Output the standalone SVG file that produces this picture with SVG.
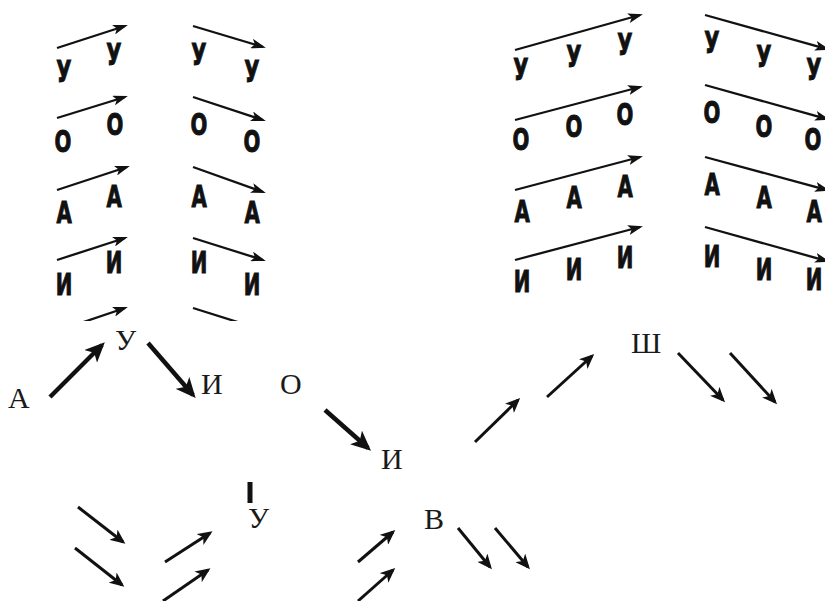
<svg xmlns="http://www.w3.org/2000/svg" width="825" height="601" viewBox="0 0 825 601">
<style>
.b{font-family:"DejaVu Sans","Liberation Sans",sans-serif;font-weight:bold;font-size:30px;text-anchor:middle;fill:#111;stroke:#111;stroke-width:1;transform-box:fill-box;transform-origin:50% 100%;transform:scaleX(0.66)}
.s{font-family:"Liberation Serif","Times New Roman",serif;font-size:30px;fill:#1a1a1a}
.t{stroke:#111;stroke-width:2.3;fill:none;marker-end:url(#ht)}
.m{stroke:#111;stroke-width:3;fill:none;marker-end:url(#hm)}
.k{stroke:#111;stroke-width:4.5;fill:none;marker-end:url(#hk)}
</style>
<defs>
<marker id="ht" markerUnits="userSpaceOnUse" markerWidth="15" markerHeight="10" refX="12" refY="5" orient="auto"><path d="M0,0 L15,5 L0,10 L3.5,5 z" fill="#111"/></marker>
<marker id="hm" markerUnits="userSpaceOnUse" markerWidth="15" markerHeight="13" refX="12" refY="6.5" orient="auto"><path d="M0,0 L15,6.5 L0,13 L4,6.5 z" fill="#111"/></marker>
<marker id="hk" markerUnits="userSpaceOnUse" markerWidth="20" markerHeight="18" refX="16" refY="9" orient="auto"><path d="M0,0 L20,9 L0,18 L5,9 z" fill="#111"/></marker>
<clipPath id="cl"><rect x="0" y="0" width="300" height="321"/></clipPath>
</defs>
<rect width="825" height="601" fill="#fff"/>

<g id="block-left" clip-path="url(#cl)">
<line class="t" x1="57" y1="48" x2="125" y2="26"/>
<line class="t" x1="57" y1="118" x2="125" y2="97"/>
<line class="t" x1="57" y1="190" x2="127" y2="167"/>
<line class="t" x1="57" y1="260" x2="125" y2="238"/>
<line class="t" x1="57" y1="331" x2="125" y2="308"/>
<line class="t" x1="193" y1="26" x2="263" y2="47"/>
<line class="t" x1="193" y1="97" x2="263" y2="120"/>
<line class="t" x1="193" y1="167" x2="263" y2="192"/>
<line class="t" x1="193" y1="238" x2="263" y2="260"/>
<line class="t" x1="193" y1="308" x2="263" y2="330"/>
<text class="b" x="64" y="82">У</text><text class="b" x="114" y="65">У</text>
<text class="b" x="199" y="65">У</text><text class="b" x="252" y="82">У</text>
<text class="b" x="63" y="152">О</text><text class="b" x="115" y="135">О</text>
<text class="b" x="199" y="135">О</text><text class="b" x="252" y="152">О</text>
<text class="b" x="64" y="223">А</text><text class="b" x="114" y="207">А</text>
<text class="b" x="199" y="207">А</text><text class="b" x="252" y="223">А</text>
<text class="b" x="64" y="295">И</text><text class="b" x="114" y="273">И</text>
<text class="b" x="199" y="273">И</text><text class="b" x="252" y="295">И</text>
</g>

<g id="block-right">
<line class="t" x1="515" y1="50" x2="640" y2="15"/>
<line class="t" x1="515" y1="120" x2="640" y2="87"/>
<line class="t" x1="515" y1="190" x2="640" y2="157"/>
<line class="t" x1="515" y1="260" x2="640" y2="227"/>
<line class="t" x1="705" y1="15" x2="827" y2="49"/>
<line class="t" x1="705" y1="85" x2="827" y2="119"/>
<line class="t" x1="705" y1="157" x2="827" y2="190"/>
<line class="t" x1="705" y1="227" x2="827" y2="261"/>
<text class="b" x="521" y="80">У</text><text class="b" x="574" y="67">У</text><text class="b" x="625" y="55">У</text>
<text class="b" x="521" y="150">О</text><text class="b" x="574" y="137">О</text><text class="b" x="625" y="125">О</text>
<text class="b" x="522" y="222">А</text><text class="b" x="574" y="208">А</text><text class="b" x="625" y="197">А</text>
<text class="b" x="522" y="292">И</text><text class="b" x="574" y="280">И</text><text class="b" x="625" y="268">И</text>
<text class="b" x="712" y="53">У</text><text class="b" x="764" y="67">У</text><text class="b" x="814" y="80">У</text>
<text class="b" x="712" y="123">О</text><text class="b" x="764" y="137">О</text><text class="b" x="813" y="150">О</text>
<text class="b" x="712" y="195">А</text><text class="b" x="764" y="208">А</text><text class="b" x="814" y="222">А</text>
<text class="b" x="712" y="267">И</text><text class="b" x="764" y="280">И</text><text class="b" x="814" y="290">И</text>
</g>

<g id="node-a"><text class="s" x="8" y="408">А</text></g>
<g id="node-u1"><text class="s" x="115" y="350">У</text></g>
<g id="node-i1"><text class="s" x="201" y="394">И</text></g>
<g id="node-o"><text class="s" x="280" y="394">О</text></g>
<g id="node-i2"><text class="s" x="381" y="469">И</text></g>
<g id="node-u2"><line x1="250" y1="482" x2="250" y2="503" stroke="#111" stroke-width="5"/><text class="s" x="248" y="528">У</text></g>
<g id="node-v"><text class="s" x="424" y="529">В</text></g>
<g id="node-sh"><text class="s" x="631" y="353">Ш</text></g>

<g id="connectors">
<line class="k" x1="50" y1="397" x2="102" y2="345"/>
<line class="k" x1="148" y1="343" x2="193" y2="395"/>
<line class="k" x1="325" y1="410" x2="368" y2="448"/>
<line class="m" x1="78" y1="507" x2="123" y2="542"/>
<line class="m" x1="75" y1="548" x2="122" y2="585"/>
<line class="m" x1="165" y1="562" x2="210" y2="533"/>
<line class="m" x1="163" y1="601" x2="208" y2="570"/>
<line class="m" x1="358" y1="562" x2="393" y2="532"/>
<line class="m" x1="358" y1="601" x2="393" y2="570"/>
<line class="m" x1="458" y1="528" x2="490" y2="567"/>
<line class="m" x1="495" y1="528" x2="528" y2="567"/>
<line class="m" x1="475" y1="442" x2="518" y2="400"/>
<line class="m" x1="547" y1="397" x2="592" y2="356"/>
<line class="m" x1="678" y1="353" x2="723" y2="400"/>
<line class="m" x1="730" y1="353" x2="775" y2="402"/>
</g>
</svg>
